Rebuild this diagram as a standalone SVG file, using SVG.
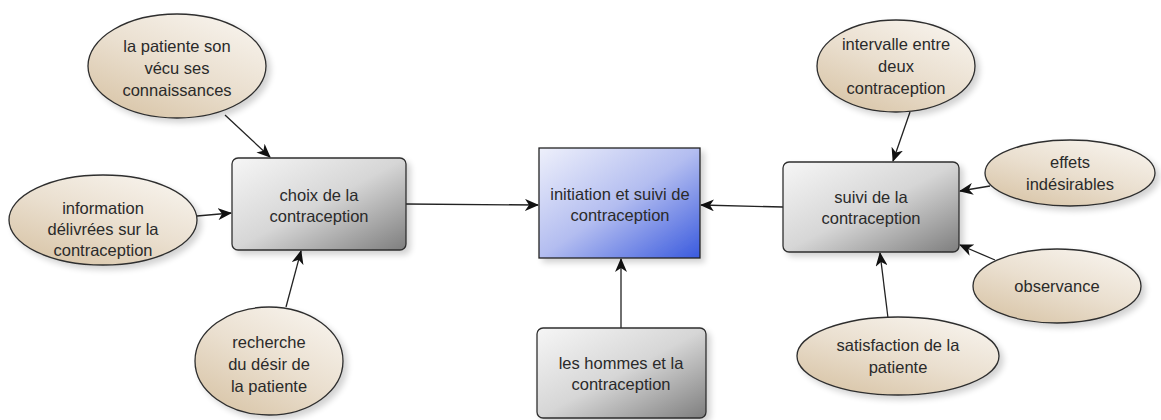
<svg xmlns="http://www.w3.org/2000/svg" width="1161" height="420" viewBox="0 0 1161 420">
<style>
text{font-family:"Liberation Sans",Arial,sans-serif;font-size:16.5px;fill:#2a2a2a;text-anchor:middle}
.ell{fill:url(#tan);stroke:#2e2e2e;stroke-width:1.3;filter:url(#sh)}
.box{fill:url(#gray);stroke:#2e2e2e;stroke-width:1.3;filter:url(#sh)}
.conn line{stroke:#222;stroke-width:1.3;marker-end:url(#ah)}
</style>
<defs>
<linearGradient id="tan" x1="0.15" y1="1" x2="0.85" y2="0">
<stop offset="0" stop-color="#d8c4a6"/>
<stop offset="0.5" stop-color="#eadfcf"/>
<stop offset="1" stop-color="#f8f4ee"/>
</linearGradient>
<linearGradient id="gray" x1="0" y1="0" x2="1" y2="1">
<stop offset="0" stop-color="#f6f6f6"/>
<stop offset="0.5" stop-color="#d6d6d6"/>
<stop offset="1" stop-color="#7e7e7e"/>
</linearGradient>
<linearGradient id="blue" x1="0" y1="0" x2="1" y2="1">
<stop offset="0" stop-color="#eef0fb"/>
<stop offset="0.5" stop-color="#b3bdf0"/>
<stop offset="1" stop-color="#3a5ade"/>
</linearGradient>
<filter id="sh" x="-20%" y="-20%" width="150%" height="150%">
<feGaussianBlur in="SourceAlpha" stdDeviation="3"/>
<feOffset dx="4" dy="4" result="b"/>
<feComponentTransfer><feFuncA type="linear" slope="0.18"/></feComponentTransfer>
<feMerge><feMergeNode/><feMergeNode in="SourceGraphic"/></feMerge>
</filter>
<marker id="ah" viewBox="0 0 14 12" refX="13" refY="6" markerWidth="14" markerHeight="12" markerUnits="userSpaceOnUse" orient="auto">
<path d="M0,0 L14,6 L0,12 L4,6 Z" fill="#111"/>
</marker>
</defs>
<rect width="1161" height="420" fill="#fff"/>

<g class="conn" id="connectors">
<line x1="225" y1="115" x2="270" y2="157"/>
<line x1="197" y1="216" x2="231" y2="213"/>
<line x1="286" y1="307" x2="301" y2="251"/>
<line x1="406" y1="204" x2="538" y2="205"/>
<line x1="621" y1="328" x2="621" y2="259"/>
<line x1="783" y1="207" x2="701" y2="205"/>
<line x1="910" y1="112" x2="893" y2="161"/>
<line x1="990" y1="186" x2="960" y2="191"/>
<line x1="995" y1="260" x2="960" y2="245"/>
<line x1="888" y1="318" x2="880" y2="253"/>
</g>

<g id="n-patiente">
<ellipse class="ell" cx="177" cy="66" rx="89" ry="52"/>
<text x="177" y="52">la patiente son</text>
<text x="177" y="74">vécu ses</text>
<text x="177" y="96">connaissances</text>
</g>
<g id="n-information">
<ellipse class="ell" cx="103" cy="220" rx="94" ry="45"/>
<text x="103" y="214">information</text>
<text x="103" y="235">délivrées sur la</text>
<text x="103" y="256">contraception</text>
</g>
<g id="n-recherche">
<ellipse class="ell" cx="269" cy="361" rx="74" ry="54"/>
<text x="269" y="348">recherche</text>
<text x="269" y="370">du désir de</text>
<text x="269" y="392">la patiente</text>
</g>
<g id="n-choix">
<rect class="box" x="232" y="158" width="174" height="92" rx="6"/>
<text x="319" y="201">choix de la</text>
<text x="319" y="222">contraception</text>
</g>
<g id="n-initiation">
<rect x="539" y="148" width="161" height="110" fill="url(#blue)" stroke="#222" stroke-width="1.3" filter="url(#sh)"/>
<text x="620" y="200">initiation et suivi de</text>
<text x="620" y="221">contraception</text>
</g>
<g id="n-hommes">
<rect class="box" x="537" y="328" width="169" height="90" rx="6"/>
<text x="621" y="369">les hommes et la</text>
<text x="621" y="390">contraception</text>
</g>
<g id="n-suivi">
<rect class="box" x="783" y="162" width="176" height="90" rx="6"/>
<text x="871" y="203">suivi de la</text>
<text x="871" y="224">contraception</text>
</g>
<g id="n-intervalle">
<ellipse class="ell" cx="896" cy="66" rx="79" ry="46"/>
<text x="896" y="50">intervalle entre</text>
<text x="896" y="72">deux</text>
<text x="896" y="94">contraception</text>
</g>
<g id="n-effets">
<ellipse class="ell" cx="1070" cy="173" rx="85" ry="33"/>
<text x="1070" y="168">effets</text>
<text x="1070" y="190">indésirables</text>
</g>
<g id="n-observance">
<ellipse class="ell" cx="1057" cy="286" rx="84" ry="37"/>
<text x="1057" y="292">observance</text>
</g>
<g id="n-satisfaction">
<ellipse class="ell" cx="898" cy="356" rx="101" ry="39"/>
<text x="898" y="351">satisfaction de la</text>
<text x="898" y="373">patiente</text>
</g>
</svg>
